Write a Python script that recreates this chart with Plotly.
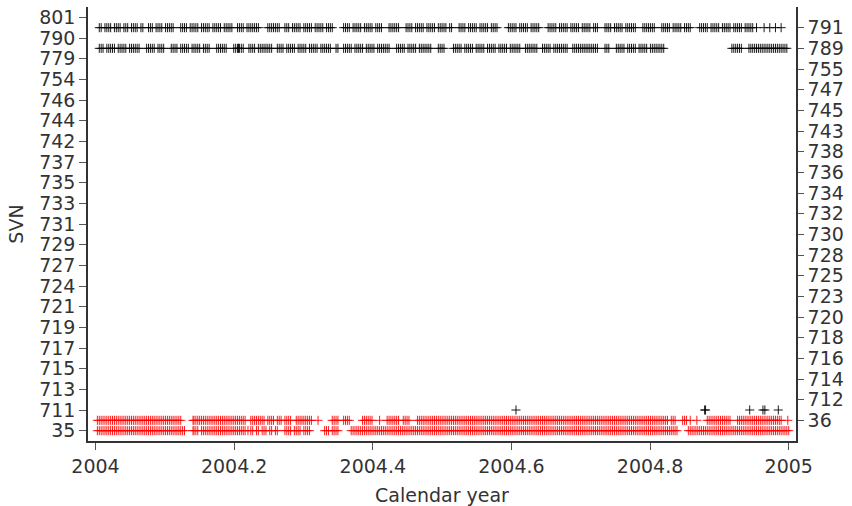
import plotly.graph_objects as go

# Ordered SVN categories (bottom to top)
SVN_ORDER = [35, 36, 711, 712, 713, 714, 715, 716, 717, 718, 719, 720, 721, 723, 724, 725,
             727, 728, 729, 730, 731, 732, 733, 734, 735, 736, 737, 738, 742, 743, 744, 745,
             746, 747, 754, 755, 779, 789, 790, 791, 801]

X_TICKS = [2004, 2004.2, 2004.4, 2004.6, 2004.8, 2005]
X_TICK_LABELS = ["2004", "2004.2", "2004.4", "2004.6", "2004.8", "2005"]

# Day-of-year (2004) of each observation, per SVN
DAYS_791 = [2, 3, 5, 6, 7, 8, 10, 11, 12, 13, 15, 16, 17, 19, 20, 21, 22, 24, 25,
            28, 29, 30, 32, 33, 34, 35, 37, 38, 39, 40, 41,
            45, 46, 47, 48, 50, 51, 52, 53, 54, 56, 57, 58, 59, 60, 62, 63, 64, 65, 66, 68, 69, 70, 71, 72,
            75, 76, 77, 78, 80, 81, 82, 83, 84, 85, 86,
            91, 92, 93, 94, 95, 96, 97,
            100, 101, 102, 104, 105, 106, 107, 108, 110, 111, 112, 113, 114, 116, 117, 118, 119, 120, 122, 123, 124, 125,
            131, 132, 133, 134, 136, 137, 138, 139, 140, 142, 143, 144, 145, 146, 148, 149, 150, 151,
            155, 156, 157, 158, 159, 160,
            164, 165, 166, 167, 169, 170, 171, 172, 173, 175, 176, 177, 178, 179, 181, 182, 183, 184, 185, 187, 188,
            192, 193, 194, 195, 197, 198, 199, 200, 201, 203, 204, 205, 206, 207, 209, 210, 211, 212,
            218, 219, 220, 221, 222, 224, 225, 226, 227, 228, 230, 231, 232, 233, 234,
            239, 240, 241, 242, 243, 245, 246, 247, 248, 249, 251, 252, 253, 254, 255, 257, 258, 259, 260, 261, 263, 264, 265,
            269, 270, 271, 272, 274, 275, 276, 277, 278, 280, 281, 282, 283, 284, 285,
            289, 290, 291, 292, 293, 294, 295,
            299, 300, 301, 302, 303, 305, 306, 307, 308, 309, 311, 312, 313, 314,
            319, 320, 321, 322, 323, 325, 326, 327, 328, 329, 331, 332, 333, 334, 335, 337, 338, 339, 340, 341,
            343, 344, 345, 346, 347, 349, 353, 356, 359, 362]

DAYS_789 = [2, 3, 4, 6, 7, 8, 9, 10, 12, 13, 14, 15, 16, 18, 19, 20, 21, 22, 23,
            27, 28, 29, 30, 31, 33, 34, 35, 36,
            40, 41, 42, 43, 45, 46, 47, 48, 49, 51, 52, 53, 54, 55, 57, 58, 59, 60,
            64, 65, 66, 67, 68, 69,
            73, 74, 75, 75.5, 76, 77, 78,
            81, 82, 83, 84, 86, 87, 88, 89, 90, 91, 92, 93,
            96, 97, 98, 99, 101, 102, 103, 104, 105, 107, 108, 109, 110, 111, 113, 114, 115, 116, 117, 119, 120, 121, 122, 123, 124,
            127, 128,
            131, 132, 133, 134, 135, 137, 138, 139, 140, 141, 143, 144, 145, 146, 147, 149, 150, 151, 152, 153, 154, 155,
            159, 160, 161, 162, 163, 165, 166, 167, 168, 169, 171, 172, 173, 174, 175, 176, 177,
            181, 182, 183, 184,
            189, 190, 191, 192, 193, 195, 196, 197, 198, 199, 201, 202, 203, 204, 205, 207, 208, 209, 210, 211,
            213, 214, 215, 216, 217, 219, 220, 221, 222, 223, 224,
            227, 228, 229, 230, 231, 232, 233,
            236, 237, 238, 239, 240, 242, 243, 244, 245, 246, 247, 248, 249,
            252, 253, 254, 255, 256, 257, 258, 259, 260, 261, 262, 263, 264, 265,
            269, 270, 271,
            275, 276, 277, 278, 279, 281, 282, 283, 284, 285, 287, 288, 289, 290, 291, 293, 294, 295, 296, 297, 298, 299, 300,
            336, 337, 338, 339, 340, 341,
            345, 346, 347, 348, 349, 350, 351, 352, 353, 354, 355, 356, 357, 358, 359, 360, 361, 362, 363, 364, 365]

DAYS_711 = [222, 321.6, 322.1, 345.4, 352.4, 353.4, 360.5]

DAYS_36 = [1, 2, 3, 4, 5, 6, 7, 8, 9, 10, 11, 12, 13, 14, 15, 16, 17, 18, 19, 20, 21, 22, 23,
           24, 25, 26, 27, 28, 29, 30, 31, 32, 33, 34, 35, 36, 37, 38, 39, 40, 41, 42, 43, 44, 45,
           51.5, 52, 53, 54, 55, 56, 57, 58, 59, 60, 61, 62, 63, 64, 65, 66, 67, 68, 69, 70, 71, 72,
           73, 74, 75, 76, 77, 78, 79,
           82, 83, 84, 85, 86, 87, 88, 89, 91, 92, 93, 94, 96, 97, 98, 100, 101, 102, 103,
           106, 107, 108, 109, 110, 111, 112, 113, 114,
           117.5,
           125, 126, 127, 128,
           131, 132, 133, 134,
           141, 142, 143, 144, 145, 146,
           150,
           154, 155, 156, 157, 158, 159, 160,
           162.5, 163.5, 164.5, 165.5,
           170, 171, 172, 173, 174, 175, 176, 177, 178, 179, 180, 181, 182, 183, 184, 185, 186, 187,
           188, 189, 190, 191, 192, 193, 194, 195, 196, 197, 198, 199, 200, 201, 202, 203, 204, 205,
           206, 207, 208, 209, 210, 211, 212, 213, 214, 215, 216, 217, 218, 219, 220, 221, 222, 223,
           224, 225, 226, 227, 228, 229, 230, 231, 232, 233, 234, 235, 236, 237, 238, 239, 240, 241,
           242, 243, 244, 245, 246, 247, 248, 249, 250, 251, 252, 253, 254, 255, 256, 257, 258, 259,
           260, 261, 262, 263, 264, 265, 266, 267, 268, 269, 270, 271, 272, 273, 274, 275, 276, 277,
           278, 279, 280, 281, 282, 283, 284, 285, 286, 287, 288, 289, 290, 291, 292, 293, 294, 295,
           296, 297, 298, 299, 300, 301, 302,
           304, 305, 306,
           310, 311, 312,
           314,
           317.5,
           323, 324, 325, 326, 327, 328, 329, 330, 331, 332, 333, 334, 335,
           339, 340, 341, 342, 343, 344, 345, 346, 347, 348, 349, 350, 351, 352, 353, 354, 355, 356,
           357, 358, 359, 360, 361, 362,
           365.5]

DAYS_35 = [1, 2, 3, 4, 5, 6, 7, 8, 9, 10, 11, 12, 13, 14, 15, 16, 17, 18, 19, 20, 21, 22, 23,
           24, 25, 26, 27, 28, 29, 30, 31, 32, 33, 34, 35, 36, 37, 38, 39, 40, 41, 42, 43, 44, 45, 46, 47,
           51.5, 52, 53, 54,
           56, 57, 58, 59, 60, 61, 62, 63, 64, 65, 66, 67, 68, 69, 70, 71, 72, 73, 74, 75, 76, 77, 78, 79,
           80.5, 82, 83, 85, 86, 88, 89, 90, 92, 93, 95, 96,
           100, 101, 102, 103,
           105, 106, 107, 108, 110, 111, 112, 113,
           121, 122, 123, 125, 126, 127, 128,
           135, 136, 137, 138, 139, 140, 141, 142, 143, 144, 145, 146, 147, 148, 149, 150, 151, 152,
           153, 154, 155, 156, 157, 158, 159, 160, 161, 162, 163, 164, 165, 166, 167, 168, 169, 170,
           171, 172, 173, 174, 175, 176, 177, 178, 179, 180, 181, 182, 183, 184, 185, 186, 187, 188,
           189, 190, 191, 192, 193, 194, 195, 196, 197, 198, 199, 200, 201, 202, 203, 204, 205, 206,
           207, 208, 209, 210, 211, 212, 213, 214, 215, 216, 217, 218, 219, 220, 221, 222, 223, 224,
           225, 226, 227, 228, 229, 230, 231, 232, 233, 234, 235, 236, 237, 238, 239, 240, 241, 242,
           243, 244, 245, 246, 247, 248, 249, 250, 251, 252, 253, 254, 255, 256, 257, 258, 259, 260,
           261, 262, 263, 264, 265, 266, 267, 268, 269, 270, 271, 272, 273, 274, 275, 276, 277, 278,
           279, 280, 281, 282, 283, 284, 285, 286, 287, 288, 289, 290, 291, 292, 293, 294, 295, 296,
           297, 298, 299, 300, 301, 302, 303, 304, 305, 306, 307,
           313, 314, 315, 316, 317, 318, 319, 320, 321, 322, 323, 324, 325, 326, 327, 328, 329, 330,
           331, 332, 333, 334, 335, 336, 337, 338, 339, 340, 341, 342, 343, 344, 345, 346, 347, 348,
           349, 350, 351, 352, 353, 354, 355, 356, 357, 358, 359, 360, 361, 362, 363, 364, 365, 366]

DAYS_IN_YEAR = 366


def to_year(days):
    return [2004 + d / DAYS_IN_YEAR for d in days]


SERIES = [
    (791, DAYS_791, "black"),
    (789, DAYS_789, "black"),
    (711, DAYS_711, "black"),
    (36, DAYS_36, "red"),
    (35, DAYS_35, "red"),
]

fig = go.Figure()
for svn, days, color in SERIES:
    idx = SVN_ORDER.index(svn)
    fig.add_trace(go.Scatter(
        x=to_year(days), y=[idx] * len(days), mode="markers",
        marker=dict(symbol="cross-thin", size=6.5, color=color,
                    line=dict(color=color, width=0.9)),
        yaxis="y" if idx % 2 == 0 else "y2",
        hoverinfo="skip", showlegend=False,
    ))

left_vals = [i for i in range(len(SVN_ORDER)) if i % 2 == 0]
right_vals = [i for i in range(len(SVN_ORDER)) if i % 2 == 1]
axis_color = "#333333"
font = dict(family="DejaVu Sans", size=19, color="#333333")

fig.update_layout(
    width=852, height=506,
    margin=dict(l=88, r=56, t=7, b=65, autoexpand=False),
    plot_bgcolor="white", paper_bgcolor="white",
    showlegend=False,
    font=font,
    xaxis=dict(range=[2003.9892, 2005.0105], tickvals=X_TICKS, ticktext=X_TICK_LABELS,
               showline=True, linecolor=axis_color, linewidth=1.5, mirror=False,
               ticks="outside", ticklen=7, tickcolor="#555555", tickwidth=1,
               showgrid=False, zeroline=False, tickfont=font, automargin=False,
               title=dict(text="Calendar year", font=font, standoff=14)),
    yaxis=dict(range=[-1, 41], tickvals=left_vals,
               ticktext=[str(SVN_ORDER[i]) for i in left_vals],
               showline=True, linecolor=axis_color, linewidth=1.5,
               ticks="outside", ticklen=7, tickcolor="#555555", tickwidth=1,
               showgrid=False, zeroline=False, tickfont=font, automargin=False,
               title=dict(text="SVN", font=font, standoff=11)),
    yaxis2=dict(range=[-1, 41], tickvals=right_vals,
                ticktext=[str(SVN_ORDER[i]) for i in right_vals],
                overlaying="y", side="right",
                showline=True, linecolor=axis_color, linewidth=1.5,
                ticks="outside", ticklen=6, tickcolor="#555555", tickwidth=1,
                showgrid=False, zeroline=False, tickfont=font, automargin=False),
)

fig.write_html("out.html", config={"displayModeBar": False},
               post_script="document.body.style.margin='0';document.body.style.padding='0';")
